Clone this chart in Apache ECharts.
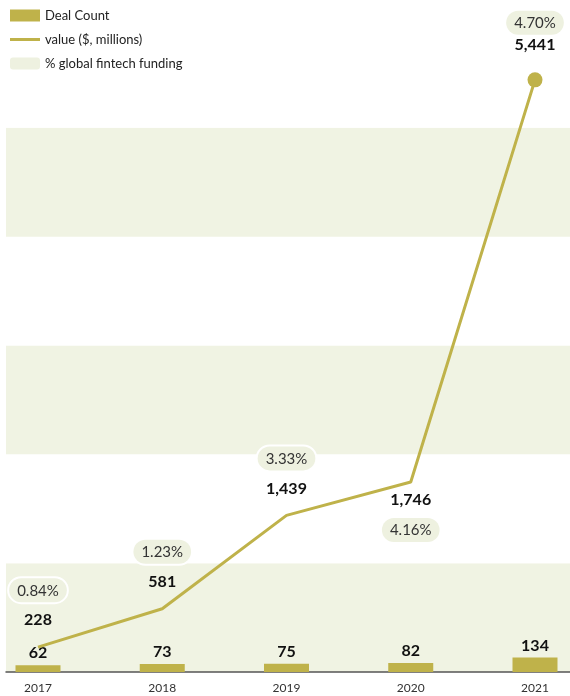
<!DOCTYPE html>
<html>
<head>
<meta charset="utf-8">
<script src="https://cdn.jsdelivr.net/npm/echarts@6/dist/echarts.min.js"></script>
<style>
html, body { margin: 0; padding: 0; background: #fff; }
#main { width: 570px; height: 696px; }
</style>
</head>
<body>
<div id="main"></div>
<script>
var years = ['2017', '2018', '2019', '2020', '2021'];
var dealCount = [62, 73, 75, 82, 134];
var dealValue = [228, 581, 1439, 1746, 5441];
var fundingShare = ['0.84%', '1.23%', '3.33%', '4.16%', '4.70%'];

var olive = '#bfb24a';
var paleGreen = '#f0f3e3';

// labels go below the point only for 2020
function below(i) { return i == 3; }

var barData = [], lineData = [], pillData = [];
for (var i = 0; i < years.length; i++) {
    barData.push([i, dealCount[i]]);
    lineData.push({
        value: [i, dealValue[i]],
        label: { position: below(i) ? 'bottom' : 'top', distance: below(i) ? 10 : 19 }
    });
    pillData.push({
        value: [i, dealValue[i]],
        label: { position: below(i) ? 'bottom' : 'top', distance: below(i) ? 36 : 45 }
    });
}

var chart = echarts.init(document.getElementById('main'));
chart.setOption({
    animation: false,
    textStyle: { fontFamily: 'Lato, "Noto Sans", sans-serif' },
    legend: {
        orient: 'vertical',
        left: 5,
        top: 4,
        itemGap: 11,
        itemWidth: 30,
        itemHeight: 12,
        textStyle: { fontSize: 13, color: '#222' },
        data: [
            { name: 'Deal Count', icon: 'rect' },
            { name: 'value ($, millions)', icon: 'path://M0,0 L30,0 L30,3 L0,3 Z' },
            { name: '% global fintech funding', icon: 'roundRect' }
        ]
    },
    grid: { left: 6, right: 0, top: 19, bottom: 24 },
    xAxis: {
        type: 'value',
        min: -0.2575,
        max: 4.2817,
        splitLine: { show: false },
        axisTick: { show: false },
        axisLine: { show: true, lineStyle: { color: '#555', width: 1.5 } },
        axisLabel: {
            customValues: [0, 1, 2, 3, 4],
            formatter: function (v) { return years[Math.round(v)]; },
            color: '#333',
            fontSize: 12,
            margin: 10
        }
    },
    yAxis: {
        type: 'value',
        min: 0,
        max: 6000,
        interval: 1000,
        axisLabel: { show: false },
        axisLine: { show: false },
        axisTick: { show: false },
        splitLine: { show: false },
        splitArea: { show: true, areaStyle: { color: [paleGreen, '#ffffff'] } }
    },
    series: [
        {
            name: 'Deal Count',
            type: 'bar',
            barWidth: 45,
            itemStyle: { color: olive },
            label: {
                show: true,
                position: 'top',
                distance: 4,
                color: '#111',
                fontSize: 16,
                fontWeight: 'bold'
            },
            data: barData
        },
        {
            name: 'value ($, millions)',
            type: 'line',
            symbol: 'circle',
            symbolSize: function (v, p) { return p.dataIndex == 4 ? 15 : 0; },
            itemStyle: { color: olive },
            lineStyle: { color: olive, width: 3 },
            label: {
                show: true,
                color: '#111',
                fontSize: 16,
                fontWeight: 'bold',
                formatter: function (p) { return p.value[1].toLocaleString('en-US'); }
            },
            data: lineData,
            z: 3
        },
        {
            name: '% global fintech funding',
            type: 'scatter',
            symbolSize: 0,
            itemStyle: { color: '#eef1e0', opacity: 1 },
            label: {
                show: true,
                color: '#333',
                fontSize: 15,
                backgroundColor: '#eef1e0',
                borderColor: '#fff',
                borderWidth: 2,
                borderRadius: 14,
                padding: [5, 8, 4, 8],
                formatter: function (p) { return fundingShare[p.dataIndex]; }
            },
            data: pillData,
            z: 4
        }
    ]
});
</script>
</body>
</html>
